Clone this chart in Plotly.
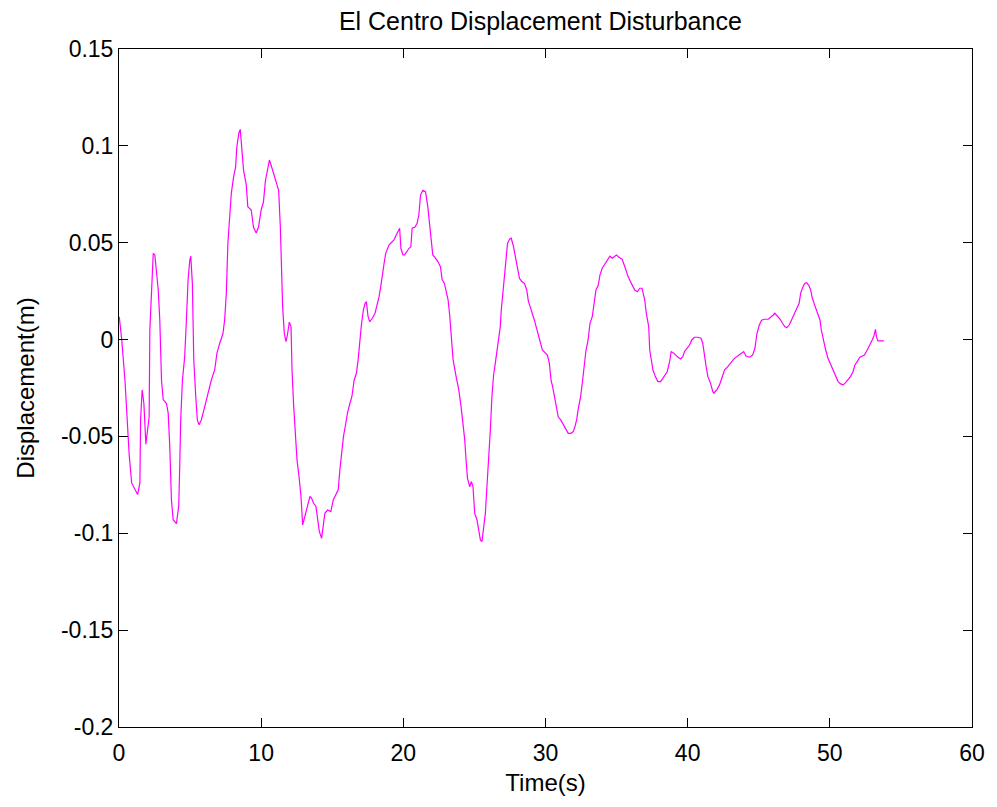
import plotly.graph_objects as go

time_s = [
    0.02, 0.19, 0.42, 0.58, 0.72, 0.89, 1.12, 1.31, 1.47, 1.52, 1.63, 1.75, 1.89, 1.98, 2.12,
    2.17, 2.29, 2.41, 2.52, 2.76, 2.87, 2.99, 3.11, 3.34, 3.46, 3.57, 3.69, 3.81, 4.04, 4.20,
    4.27, 4.34, 4.46, 4.62, 4.74, 4.86, 4.98, 5.05, 5.16, 5.26, 5.40, 5.51, 5.63, 5.79, 6.03,
    6.26, 6.49, 6.73, 6.89, 7.08, 7.31, 7.43, 7.55, 7.66, 7.78, 7.90, 8.06, 8.20, 8.29, 8.43,
    8.53, 8.64, 8.76, 8.95, 9.06, 9.30, 9.46, 9.65, 9.81, 10.0, 10.16, 10.30, 10.46, 10.58,
    10.70, 10.86, 11.05, 11.23, 11.35, 11.44, 11.51, 11.63, 11.75, 11.86, 11.98, 12.10, 12.17,
    12.29, 12.40, 12.52, 12.68, 12.80, 12.92,
    13.15, 13.27, 13.43, 13.55, 13.69, 13.85, 13.97, 14.09, 14.25, 14.37, 14.48, 14.67, 14.90,
    15.07, 15.26, 15.42, 15.54, 15.65, 15.79, 15.91, 16.07, 16.24, 16.38, 16.54, 16.70, 16.82,
    16.94, 17.05, 17.19, 17.31, 17.40, 17.52, 17.64, 17.82, 18.01, 18.17, 18.29, 18.41, 18.52,
    18.64, 18.76, 18.87, 18.99, 19.15, 19.34, 19.50, 19.64, 19.74, 19.83, 19.97, 20.09, 20.23,
    20.39, 20.53, 20.62, 20.81, 20.97, 21.09, 21.21, 21.37, 21.56, 21.72, 21.91, 22.07, 22.26,
    22.45, 22.61, 22.73, 22.89, 23.01, 23.15, 23.27, 23.38, 23.50,
    23.71, 23.90, 24.06, 24.20, 24.32, 24.41, 24.51, 24.67, 24.79, 24.90, 25.02, 25.18, 25.30,
    25.42, 25.53, 25.65, 25.77, 25.88, 26.00, 26.12, 26.23, 26.35, 26.47, 26.58, 26.70, 26.82,
    26.89, 27.00, 27.10, 27.21, 27.33, 27.47, 27.59, 27.75, 27.87, 28.03, 28.17, 28.33, 28.52,
    28.68, 28.80, 28.92, 29.08, 29.22, 29.34, 29.45, 29.62, 29.78, 29.97, 30.13, 30.27, 30.39,
    30.50, 30.62, 30.79, 30.90, 31.07, 31.25, 31.42, 31.60, 31.79, 31.95, 32.07, 32.19, 32.31,
    32.47, 32.61, 32.73, 32.85, 33.00, 33.13, 33.29, 33.41, 33.55, 33.71, 33.83, 33.99, 34.18,
    34.37, 34.53, 34.69, 34.83, 34.99,
    35.16, 35.39, 35.58, 35.81, 36.04, 36.28, 36.46, 36.63, 36.79, 36.98, 37.09, 37.26, 37.33,
    37.44, 37.56, 37.72, 37.91, 38.10, 38.33, 38.56, 38.73, 38.84, 39.03, 39.26, 39.50, 39.66,
    39.78, 39.97, 40.13, 40.29, 40.48, 40.71, 40.94, 41.06, 41.18, 41.30, 41.42, 41.61, 41.77,
    41.84, 42.07, 42.24, 42.40, 42.59, 42.82, 43.05, 43.29, 43.52, 43.75, 43.94, 44.10, 44.34,
    44.57, 44.73, 44.87, 45.04, 45.20, 45.39, 45.67, 45.85, 46.02, 46.13, 46.32, 46.51, 46.67,
    46.83, 46.97, 47.14, 47.30, 47.49, 47.67, 47.84, 47.95, 48.07, 48.23, 48.37, 48.54, 48.65,
    48.77, 48.93, 49.12, 49.31, 49.40, 49.54, 49.71, 49.87, 50.06, 50.25, 50.41, 50.58, 50.76,
    50.93, 51.11, 51.28, 51.46, 51.63, 51.77, 51.93, 52.11, 52.28, 52.44, 52.63, 52.82, 52.98,
    53.10, 53.21, 53.28, 53.38, 53.56, 53.80,
]

displacement_m = [
    0.0118, 0.0, -0.021, -0.042, -0.060, -0.074, -0.077, -0.080, -0.074, -0.041, -0.026, -0.033,
    -0.054, -0.048, -0.040,
    0.005, 0.024, 0.0445, 0.0437, 0.0256, 0.010, -0.021, -0.031, -0.033, -0.038, -0.055, -0.083,
    -0.093, -0.095, -0.086,
    -0.066, -0.0415, -0.021, -0.009, 0.010, 0.031, 0.041, 0.043, 0.029, -0.0105, -0.0295, -0.0415,
    -0.044, -0.0415, -0.0346,
    -0.0277, -0.021, -0.0157, -0.007, -0.002, 0.003, 0.010, 0.024, 0.0497, 0.065, 0.0755, 0.084,
    0.089, 0.0996, 0.1065,
    0.1085, 0.098, 0.0875, 0.080, 0.0686, 0.0669, 0.058, 0.055, 0.058, 0.0669, 0.071, 0.082,
    0.0875, 0.0927,
    0.090, 0.086, 0.082, 0.077, 0.058, 0.0376, 0.017, 0.003, -0.001, 0.003, 0.009, 0.0067, -0.0157,
    -0.0346, -0.050, -0.062, -0.072, -0.081, -0.0957,
    -0.0888, -0.0854, -0.081, -0.082, -0.0845, -0.086, -0.093, -0.099, -0.1026, -0.0948, -0.0897,
    -0.088, -0.0888,
    -0.0828, -0.080, -0.0776, -0.067, -0.0587, -0.050, -0.045, -0.038, -0.033, -0.0295, -0.021,
    -0.0174, -0.0105,
    0.0, 0.0075, 0.0153, 0.0187, 0.0196, 0.0118, 0.0092, 0.011, 0.0136, 0.0179, 0.022, 0.0273,
    0.034,
    0.039, 0.0445, 0.047, 0.0488, 0.050, 0.0514, 0.054, 0.0566, 0.0575, 0.047, 0.0437, 0.0437,
    0.0454,
    0.047, 0.048, 0.0575, 0.058, 0.060, 0.0643, 0.0746, 0.077, 0.0763, 0.0686, 0.055, 0.0437,
    0.042,
    0.040, 0.0376, 0.031, 0.029, 0.024, 0.0204, 0.0118, 0.003, -0.0105,
    -0.019, -0.026, -0.0346, -0.043, -0.0518, -0.062, -0.0716, -0.076, -0.0733, -0.076, -0.0897,
    -0.093, -0.0974,
    -0.1034, -0.1043, -0.098, -0.0897, -0.076, -0.0639, -0.0467, -0.0295, -0.0183, -0.0122,
    -0.0054, -0.001, 0.0067,
    0.0153, 0.024, 0.0325, 0.040, 0.0497, 0.0518, 0.0523, 0.048, 0.0428, 0.0376, 0.0316, 0.030,
    0.029,
    0.0256, 0.0196, 0.017, 0.0136, 0.010, 0.0067, 0.003, -0.001, -0.0054, -0.007, -0.008, -0.0122,
    -0.021,
    -0.0243, -0.0295, -0.0346, -0.040, -0.0415, -0.044, -0.0467, -0.0484, -0.0484, -0.0475,
    -0.045, -0.0415, -0.0355,
    -0.0295, -0.021, -0.014, -0.0054, 0.0, 0.0084, 0.0118, 0.0196, 0.0256, 0.028, 0.0333, 0.0368,
    0.039,
    0.041, 0.043, 0.042, 0.043, 0.0437,
    0.0425, 0.0415, 0.0376, 0.0325, 0.029, 0.0256, 0.0247, 0.0265, 0.0265, 0.0204, 0.0136, 0.0067,
    -0.0054,
    -0.0105, -0.0157, -0.019, -0.0217, -0.0217, -0.019, -0.0166, -0.0114, -0.0062, -0.007,
    -0.0088, -0.010, -0.0088,
    -0.0062, -0.0045, -0.0028, -0.0002, 0.0012, 0.0012, 0.0007, -0.0019, -0.0088, -0.014, -0.019,
    -0.0226, -0.0269,
    -0.0277, -0.0257, -0.0234, -0.020, -0.0157, -0.014, -0.0119, -0.0097, -0.0085, -0.0074,
    -0.0062, -0.0085, -0.0091,
    -0.008, -0.0045, 0.003, 0.0075, 0.010, 0.0105, 0.0105, 0.0115, 0.0127, 0.0136, 0.0122, 0.0105,
    0.0084,
    0.0067, 0.0061, 0.0075, 0.010, 0.0136, 0.016, 0.0187, 0.024, 0.0265, 0.029, 0.0294, 0.0277,
    0.0256,
    0.0213, 0.0179, 0.0136, 0.010, 0.005, 0.0, -0.0054, -0.0097, -0.013, -0.0166, -0.019, -0.0217,
    -0.0229,
    -0.0234, -0.0222, -0.0208, -0.019, -0.0166, -0.013, -0.0114, -0.0091, -0.0085, -0.008,
    -0.0054, -0.0028, -0.0002,
    0.0019, 0.0053, 0.0015, -0.0007, -0.0007, -0.0007,
]

x_ticks = [0, 10, 20, 30, 40, 50, 60]
x_tick_labels = ["0", "10", "20", "30", "40", "50", "60"]
y_ticks = [-0.2, -0.15, -0.1, -0.05, 0, 0.05, 0.1, 0.15]
y_tick_labels = ["-0.2", "-0.15", "-0.1", "-0.05", "0", "0.05", "0.1", "0.15"]

FONT = "Liberation Sans, Arial, sans-serif"

fig = go.Figure()
fig.add_trace(go.Scatter(
    x=time_s, y=displacement_m, mode="lines",
    line=dict(color="#ff00ff", width=1.2),
    showlegend=False, hoverinfo="x+y",
))

axis_common = dict(
    showgrid=False, zeroline=False, showline=True, linecolor="black", linewidth=1,
    mirror="ticks", ticks="inside", ticklen=9, tickcolor="black", tickwidth=1,
    tickfont=dict(family=FONT, size=23, color="black"),
)

fig.update_layout(
    width=997, height=807,
    margin=dict(l=119, r=19, t=49, b=80),
    paper_bgcolor="white", plot_bgcolor="white",
    font=dict(family=FONT, size=23, color="black"),
    title=dict(text="El Centro Displacement Disturbance", x=0.542, xanchor="center",
               y=0.974, yanchor="middle", font=dict(family=FONT, size=25, color="black")),
    xaxis=dict(range=[0, 60], tickvals=x_ticks, ticktext=x_tick_labels, ticklabelstandoff=5,
               title=dict(text="Time(s)", standoff=9, font=dict(family=FONT, size=24)),
               **axis_common),
    yaxis=dict(range=[-0.2, 0.15], tickvals=y_ticks, ticktext=y_tick_labels,
               title=dict(text="Displacement(m)", standoff=19, font=dict(family=FONT, size=24)),
               **axis_common),
)

fig.write_html("out.html")
